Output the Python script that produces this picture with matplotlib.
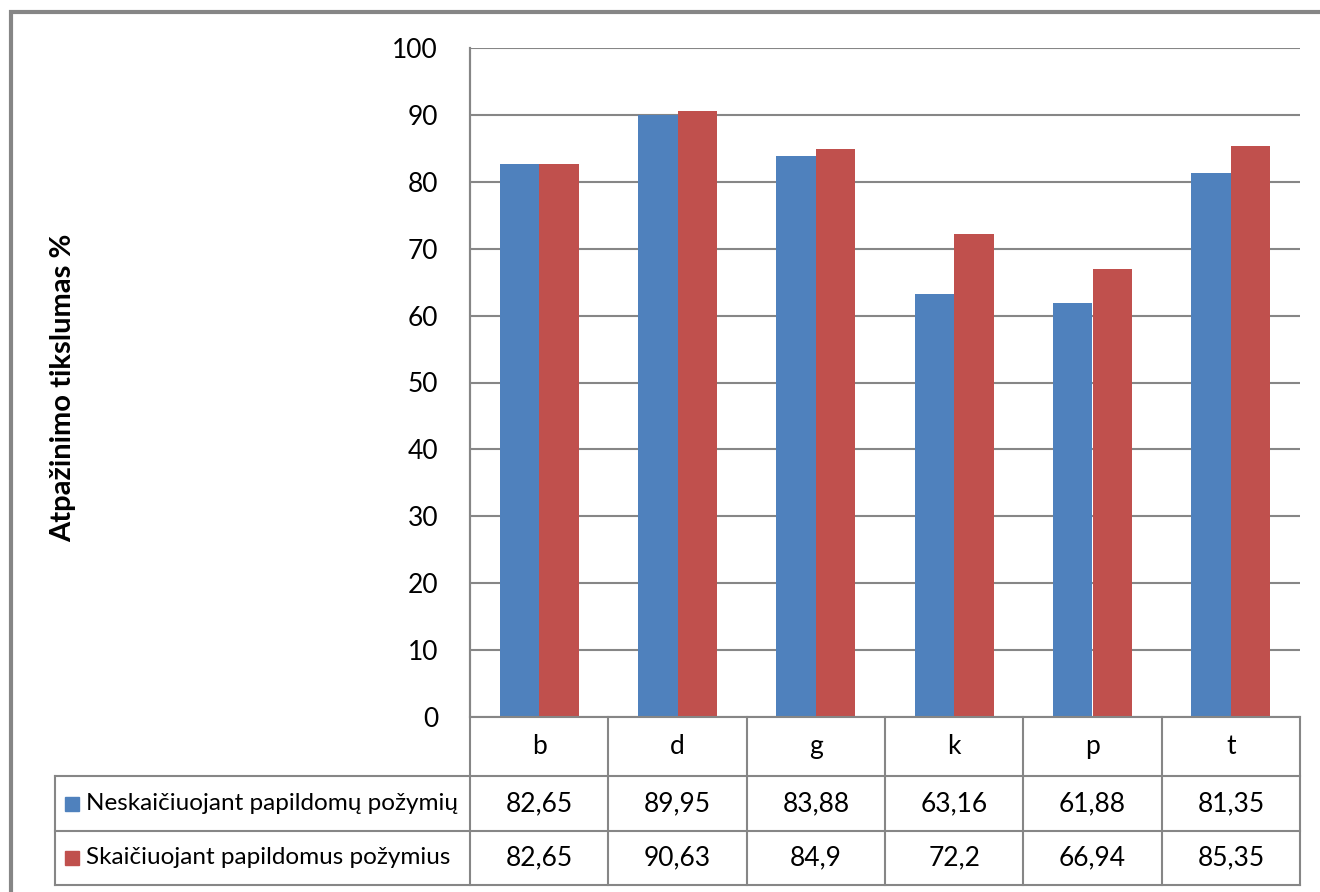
import matplotlib
matplotlib.use("Agg")
import matplotlib.pyplot as plt
from matplotlib.patches import Rectangle
from matplotlib.transforms import blended_transform_factory

categories = ["b", "d", "g", "k", "p", "t"]
series_names = ["Neskaičiuojant papildomų požymių", "Skaičiuojant papildomus požymius"]
values_without = [82.65, 89.95, 83.88, 63.16, 61.88, 81.35]
values_with = [82.65, 90.63, 84.9, 72.2, 66.94, 85.35]
value_labels = [
    ["82,65", "89,95", "83,88", "63,16", "61,88", "81,35"],
    ["82,65", "90,63", "84,9", "72,2", "66,94", "85,35"],
]
yticks = [0, 10, 20, 30, 40, 50, 60, 70, 80, 90, 100]
ylabel = "Atpažinimo tikslumas %"

blue = "#4F81BD"
red = "#C0504D"
grid = "#868686"

plt.rcParams["font.family"] = ["Lato", "DejaVu Sans"]
fs = 19

W, H = 1320, 892
fig = plt.figure(figsize=(W / 100, H / 100), dpi=100)

# plot area in pixels
left, right, top, bottom = 470, 1300, 48, 717
ax = fig.add_axes([left / W, 1 - bottom / H, (right - left) / W, (bottom - top) / H])

n = len(categories)
x = list(range(n))
bw = 1 / 3.5
ax.bar([i - bw / 2 for i in x], values_without, width=bw, color=blue, zorder=2)
ax.bar([i + bw / 2 for i in x], values_with, width=bw, color=red, zorder=2)

ax.set_xlim(-0.5, n - 0.5)
ax.set_ylim(0, 100)
ax.set_yticks(yticks)
ax.set_yticklabels([str(t) for t in yticks], fontsize=fs)
ax.set_xticks([])
ax.tick_params(axis="y", length=0, pad=23)
ax.yaxis.grid(True, color=grid, linewidth=1.5, zorder=0)
for s in ["top", "right", "bottom"]:
    ax.spines[s].set_visible(False)
ax.spines["left"].set_color(grid)
ax.spines["left"].set_linewidth(1.5)

# data table below the axis
def ay(p):
    return (bottom - p) / (bottom - top)

rows = [717, 776, 831, 885]
tleft = (55 - left) / (right - left)
lk = dict(color=grid, linewidth=1.5, clip_on=False, transform=ax.transAxes)
ax.plot([0, 1], [ay(rows[0])] * 2, **lk)
for r in rows[1:]:
    ax.plot([tleft, 1], [ay(r)] * 2, **lk)
ax.plot([0, 0], [1, ay(rows[-1])], **lk)
ax.plot([tleft, tleft], [ay(rows[1]), ay(rows[-1])], **lk)
for k in range(1, n + 1):
    ax.plot([k / n] * 2, [0, ay(rows[-1])], **lk)

tr = blended_transform_factory(ax.transData, ax.transAxes)
for i, c in enumerate(categories):
    ax.text(i, ay((rows[0] + rows[1]) / 2), c, transform=tr, ha="center",
            va="center", fontsize=fs)
    for j in range(2):
        ax.text(i, ay((rows[j + 1] + rows[j + 2]) / 2), value_labels[j][i],
                transform=tr, ha="center", va="center", fontsize=fs)

for j, (name, col) in enumerate(zip(series_names, [blue, red])):
    yc = (rows[j + 1] + rows[j + 2]) / 2
    fig.patches.append(Rectangle((65 / W, 1 - (yc + 7) / H), 14 / W, 14 / H,
                                 transform=fig.transFigure, color=col))
    fig.text(86 / W, 1 - yc / H, name, ha="left", va="center", fontsize=17.5)

fig.text(63 / W, 1 - 388 / H, ylabel, rotation=90, ha="center", va="center",
         fontsize=21, fontweight="bold")

# outer chart frame
fig.patches.append(Rectangle((11 / W, -0.1), 1.2, 1 - 12 / H + 0.1,
                             transform=fig.transFigure, fill=False,
                             edgecolor=grid, linewidth=3))

fig.savefig("out.png", dpi=100)
